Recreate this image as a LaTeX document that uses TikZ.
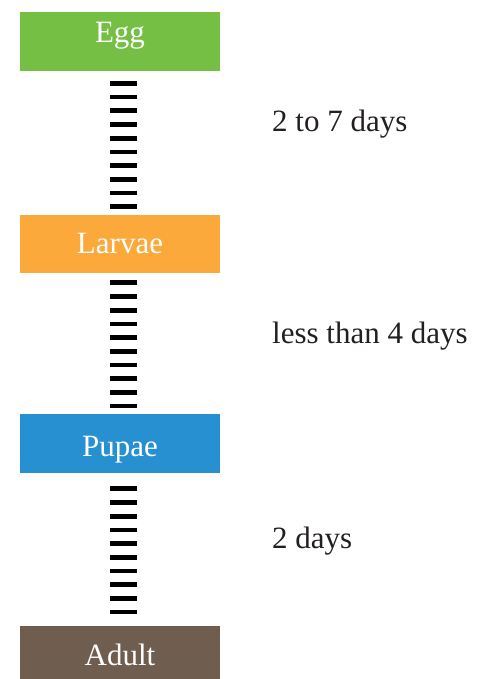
\documentclass[tikz,border=0pt]{standalone}
\usepackage{fontspec}
\setmainfont{Liberation Serif}
\definecolor{eggcol}{HTML}{75BF44}
\definecolor{larvaecol}{HTML}{FAA93A}
\definecolor{pupaecol}{HTML}{2790D0}
\definecolor{adultcol}{HTML}{6F5D4F}
\definecolor{inkcol}{HTML}{231F20}
\tikzset{
  stage/.style={fill=#1, draw=none, minimum width=200pt, inner xsep=0pt,
    inner ysep=0pt, text=white, font=\fontsize{31}{36}\selectfont},
  ladder/.style={line width=27pt, draw=black, dash pattern=on 4.7pt off 9pt},
  period/.style={anchor=base west, inner sep=0pt, text=inkcol,
    font=\fontsize{31}{36}\selectfont}
}
\begin{document}
\begin{tikzpicture}[x=1pt, y=-1pt]
  \useasboundingbox (0,0) rectangle (477,679);
  \clip (0,0) rectangle (477,679);

  % life-cycle stages (text height/depth place each baseline inside its box)
  \node[stage=eggcol, text height=30pt, text depth=28.7pt, anchor=north]
    (egg) at (120,12) {Egg};
  \node[stage=larvaecol, text height=38.3pt, text depth=19.7pt, anchor=north]
    (larvae) at (120,215) {Larvae};
  \node[stage=pupaecol, text height=42pt, text depth=16.7pt, anchor=north]
    (pupae) at (120,414) {Pupae};
  \node[stage=adultcol, text height=39.3pt, text depth=19pt, anchor=north]
    (adult) at (120,625.7) {Adult};

  % ladder connectors between the stages
  \draw[ladder] ([xshift=3pt,yshift=-10pt]egg.south)
             -- ([xshift=3pt,yshift=6.5pt]larvae.north);
  \draw[ladder] ([xshift=3pt,yshift=-7pt]larvae.south)
             -- ([xshift=3pt,yshift=5.5pt]pupae.north);
  \draw[ladder] ([xshift=3pt,yshift=-13.3pt]pupae.south)
             -- ([xshift=3pt,yshift=11.7pt]adult.north);

  % durations
  \node[period] (d1) at (272,132) {2 to 7 days};
  \node[period] (d2) at (272,343) {less than 4 days};
  \node[period] (d3) at (272,548) {2 days};
\end{tikzpicture}
\end{document}
